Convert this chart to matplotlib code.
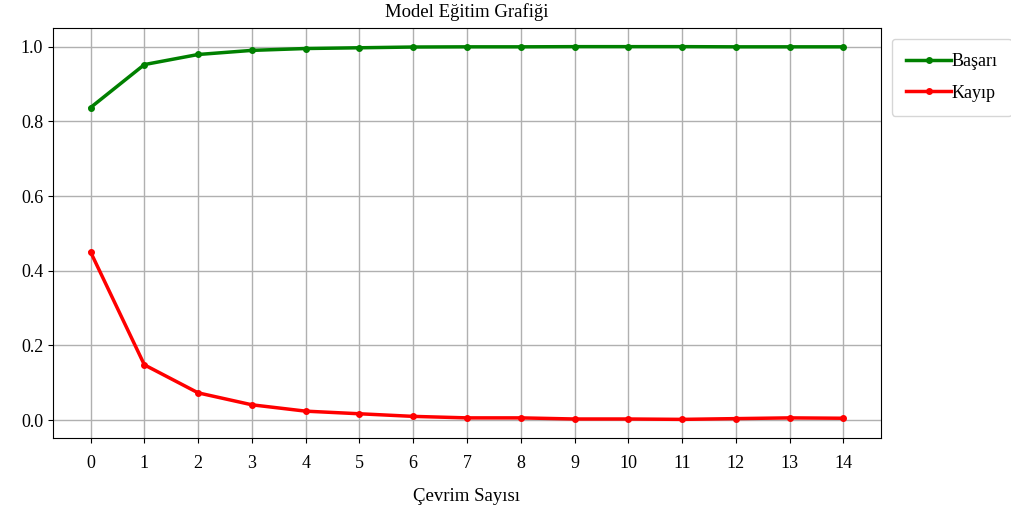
import matplotlib
matplotlib.use("Agg")
import matplotlib.pyplot as plt

plt.rcParams['font.family'] = ['Liberation Serif', 'DejaVu Serif']

epochs = list(range(15))
basari = [0.837, 0.952, 0.979, 0.990, 0.995, 0.997, 0.999, 0.9995, 0.9995, 1.0, 1.0, 1.0, 0.9995, 0.9995, 0.9995]
kayip = [0.450, 0.148, 0.073, 0.041, 0.024, 0.017, 0.010, 0.006, 0.006, 0.003, 0.003, 0.002, 0.004, 0.006, 0.005]

fig = plt.figure(figsize=(10.11, 5.15), dpi=100)
ax = fig.add_axes([0.0524, 0.1495, 0.819, 0.7961])

ax.plot(epochs, basari, color='green', linewidth=2.5, marker='o', markersize=4, label='Başarı')
ax.plot(epochs, kayip, color='red', linewidth=2.5, marker='o', markersize=4, label='Kayıp')

ax.set_xticks(epochs)
ax.tick_params(labelsize=13)
ax.tick_params(axis='x', pad=9)
ax.grid(True, color='#b0b0b0', linewidth=1)
ax.set_title('Model Eğitim Grafiği', fontsize=13.5, pad=8)
ax.set_xlabel('Çevrim Sayısı', fontsize=13.5, labelpad=11)

ax.legend(loc='upper left', bbox_to_anchor=(1.013, 0.974), fontsize=13,
          handlelength=2.5, handletextpad=0.0, labelspacing=0.8,
          borderpad=0.8, borderaxespad=0)

fig.savefig('out.png', dpi=100)
